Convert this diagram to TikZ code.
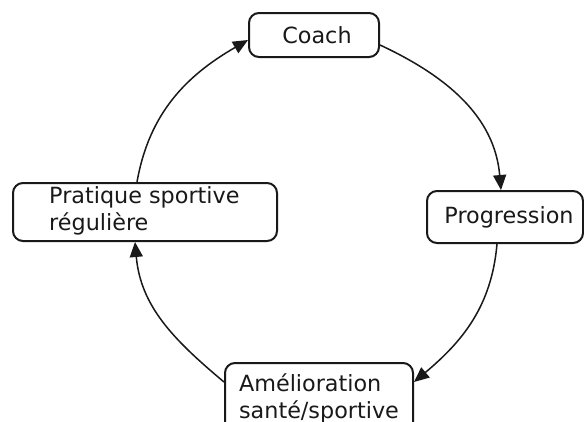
\documentclass[tikz,border=0pt]{standalone}
\usepackage{fontspec}
\setmainfont{DejaVu Sans}
\usetikzlibrary{arrows.meta}
\begin{document}
\begin{tikzpicture}[x=1pt,y=1pt,
  txt/.style={font=\fontsize{22.3}{27}\selectfont, text=black!90},
  box/.style={txt, draw=black!90, line width=2pt, rounded corners=10pt, fill=white, inner sep=0pt},
  conn/.style={line width=1.5pt, draw=black!90, -{Triangle[length=15pt,width=13pt]}}]
\useasboundingbox (0,0) rectangle (584,-421);
\fill[white] (0,0) rectangle (584,-421);
\node[box, minimum width=130pt, minimum height=44pt] (coach) at (314,-35) {\hspace*{6pt}Coach};
\node[box, minimum width=156pt, minimum height=52pt] (prog) at (505,-217) {\hspace*{8pt}Progression};
\node[box, minimum width=264pt, minimum height=58pt] (prat) at (145,-212) {};
\node[txt, anchor=west, align=left, inner sep=0pt] (pratt) at ([xshift=37pt,yshift=1pt]prat.west) {Pratique sportive\\régulière};
\node[box, minimum width=188pt, minimum height=70pt, align=left] (amel) at (319,-398) {Amélioration\\santé/sportive};
\draw[conn] ([xshift=-8pt]prat.north) to[out=80,in=210] ([yshift=-5pt]coach.west);
\draw[conn] ([yshift=-10pt]coach.east) to[out=-25,in=95] ([xshift=-4pt]prog.north);
\draw[conn] ([xshift=-8pt]prog.south) to[out=-95,in=40] ([yshift=16pt]amel.east);
\draw[conn] ([yshift=16pt]amel.west) to[out=140,in=-85] ([xshift=-10pt]prat.south);
\end{tikzpicture}
\end{document}
